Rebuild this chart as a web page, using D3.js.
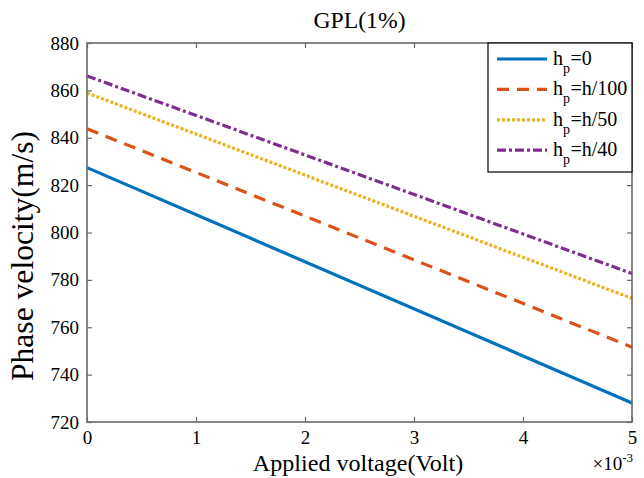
<!DOCTYPE html>
<html>
<head>
<meta charset="utf-8">
<script src="https://cdn.jsdelivr.net/npm/d3@7"></script>
<style>
  body { margin: 0; background: #fff; }
  text { font-family: "Liberation Serif", "Times New Roman", serif; fill: #000; }
</style>
</head>
<body>
<svg width="644" height="478"></svg>
<script>
// voltage in units of 1e-3 V
const voltage = [0, 5];
const hp0 = [827.4, 728.0];
const hp100 = [843.8, 751.6];
const hp50 = [858.9, 772.2];
const hp40 = [866.1, 782.7];
const seriesNames = ["=0", "=h/100", "=h/50", "=h/40"];
const xTicks = [0, 1, 2, 3, 4, 5];
const yTicks = [720, 740, 760, 780, 800, 820, 840, 860, 880];

const series = [
    { name: seriesNames[0], values: hp0, color: "#0072BD", dash: null },
    { name: seriesNames[1], values: hp100, color: "#D95319", dash: "12,8" },
    { name: seriesNames[2], values: hp50, color: "#EDB120", dash: "3,2" },
    { name: seriesNames[3], values: hp40, color: "#7E2F8E", dash: "9,3,3,3" }
];

const svg = d3.select("svg");
const margin = { top: 43, right: 12, bottom: 56, left: 87 };
const width = 644 - margin.left - margin.right;
const height = 478 - margin.top - margin.bottom;

const x = d3.scaleLinear().domain([0, 5]).range([0, width]);
const y = d3.scaleLinear().domain([720, 880]).range([height, 0]);

const g = svg.append("g").attr("transform", `translate(${margin.left},${margin.top})`);

// lines
const line = d3.line().x((d, i) => x(voltage[i])).y(d => y(d));
series.forEach(s => {
    g.append("path")
        .datum(s.values)
        .attr("fill", "none")
        .attr("stroke", s.color)
        .attr("stroke-width", 3.2)
        .attr("stroke-dasharray", s.dash)
        .attr("d", line);
});

// axes (ticks inward, box on)
const axisColor = "#6a6a6a";
function styleAxis(sel) {
    sel.select(".domain").remove();
    sel.selectAll(".tick line").attr("stroke", axisColor).attr("stroke-width", 1.2);
    sel.selectAll("text").style("font-size", "19px");
}
g.append("g").attr("transform", `translate(0,${height})`)
    .call(d3.axisBottom(x).tickValues(xTicks).tickSize(-5).tickPadding(9).tickFormat(d3.format("d")))
    .call(styleAxis);
g.append("g")
    .call(d3.axisTop(x).tickValues(xTicks).tickSize(-5).tickFormat(""))
    .call(styleAxis);
g.append("g")
    .call(d3.axisLeft(y).tickValues(yTicks).tickSize(-5).tickPadding(8).tickFormat(d3.format("d")))
    .call(styleAxis);
g.append("g").attr("transform", `translate(${width},0)`)
    .call(d3.axisRight(y).tickValues(yTicks).tickSize(-5).tickFormat(""))
    .call(styleAxis);

g.append("rect")
    .attr("width", width).attr("height", height)
    .attr("fill", "none").attr("stroke", axisColor).attr("stroke-width", 1.6);

// scale a text's font so that it spans the given length
function fitText(sel, base, target) {
    sel.style("font-size", base + "px");
    const len = sel.node().getComputedTextLength();
    sel.style("font-size", (base * target / len).toFixed(1) + "px");
}

// title and labels
const title = svg.append("text")
    .attr("x", margin.left + width / 2).attr("y", 28)
    .attr("text-anchor", "middle")
    .text("GPL(1%)");
fitText(title, 20, 92);

const xLabel = svg.append("text")
    .attr("x", 358).attr("y", 471)
    .attr("text-anchor", "middle")
    .text("Applied voltage(Volt)");
fitText(xLabel, 22, 210);

const exp = svg.append("text")
    .attr("x", 633).attr("y", 470)
    .attr("text-anchor", "end")
    .style("font-size", "19px");
exp.append("tspan").text("×10");
exp.append("tspan").attr("dy", -8).style("font-size", "13px").text("-3");

const yLabel = svg.append("text")
    .attr("transform", `translate(33,256) rotate(-90)`)
    .attr("text-anchor", "middle")
    .text("Phase velocity(m/s)");
fitText(yLabel, 24, 250);

// legend
const legend = g.append("g").attr("transform", `translate(${width - 144},0)`);
legend.append("rect")
    .attr("width", 144).attr("height", 129)
    .attr("fill", "#fff").attr("stroke", "#000").attr("stroke-width", 1.2);

series.forEach((s, i) => {
    const row = legend.append("g").attr("transform", `translate(0,${16 + i * 30.4})`);
    row.append("line")
        .attr("x1", 9).attr("x2", 59).attr("y1", 0).attr("y2", 0)
        .attr("stroke", s.color).attr("stroke-width", 3.2)
        .attr("stroke-dasharray", s.dash);
    const t = row.append("text").attr("x", 65).attr("y", 6).style("font-size", "20px");
    t.append("tspan").text("h");
    t.append("tspan").attr("dy", 8).style("font-size", "14px").text("p");
    t.append("tspan").attr("dx", 0.5).attr("dy", -8).text(s.name);
});
</script>
</body>
</html>
